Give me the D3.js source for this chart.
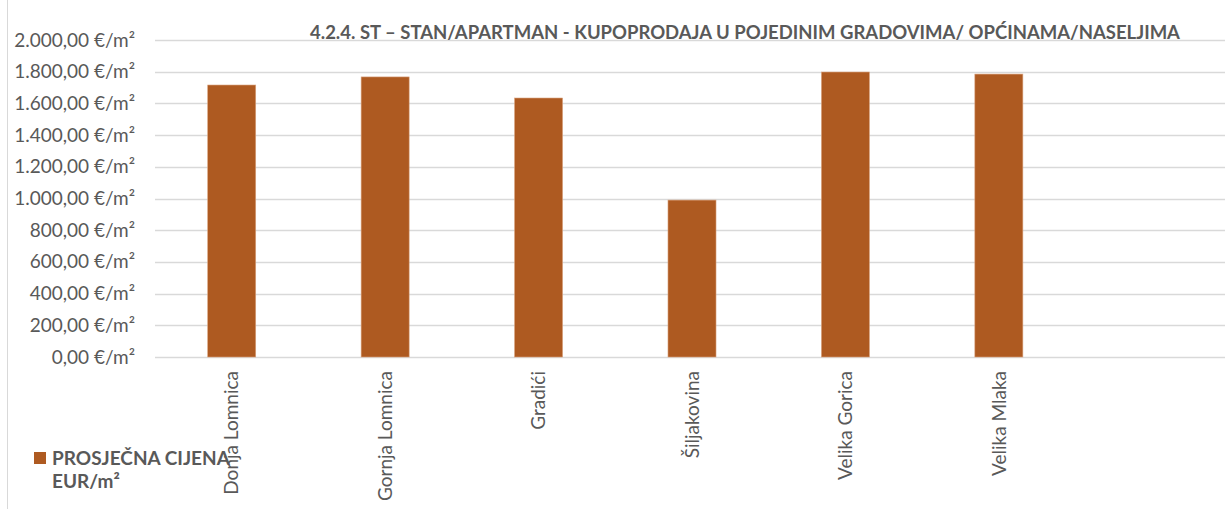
<!DOCTYPE html>
<html>
<head>
<meta charset="utf-8">
<script src="https://cdn.jsdelivr.net/npm/d3@7"></script>
<style>
  body { margin: 0; background: #fff; }
  text { font-family: Lato, "Open Sans", sans-serif; fill: #595959; }
</style>
</head>
<body>
<script>
const width = 1225;
const height = 509;
const margin = { top: 40, right: -4, bottom: 152, left: 155 };

const chartWidth = width - margin.left - margin.right;
const chartHeight = height - margin.top - margin.bottom;

// data
const categories = ["Donja Lomnica", "Gornja Lomnica", "Gradići", "Šiljakovina", "Velika Gorica", "Velika Mlaka", ""];
const values = [1716, 1767, 1634, 990, 1798, 1785];
const yTicks = [0, 200, 400, 600, 800, 1000, 1200, 1400, 1600, 1800, 2000];
const seriesName = ["PROSJEČNA CIJENA", "EUR/m²"];
const title = "4.2.4. ST – STAN/APARTMAN - KUPOPRODAJA U POJEDINIM GRADOVIMA/ OPĆINAMA/NASELJIMA";

const barColor = "#ae5a21";

const svg = d3.select("body")
  .append("svg")
  .attr("width", width)
  .attr("height", height);

// chart border
svg.append("line")
  .attr("x1", 7.5).attr("x2", 7.5)
  .attr("y1", 0).attr("y2", height)
  .attr("stroke", "#d9d9d9");

const g = svg.append("g")
  .attr("transform", `translate(${margin.left}, ${margin.top})`);

const x = d3.scaleBand()
  .domain(categories)
  .range([0, chartWidth])
  .paddingInner(0.687)
  .paddingOuter(0.3435);

const y = d3.scaleLinear()
  .domain([0, 2000])
  .range([chartHeight, 0]);

const fmt = d3.formatLocale({ decimal: ",", thousands: ".", grouping: [3], currency: ["", ""] }).format(",.2f");

// gridlines
g.append("g")
  .selectAll("line")
  .data(yTicks)
  .join("line")
    .attr("x1", 0)
    .attr("x2", chartWidth)
    .attr("y1", d => Math.round(y(d)) + 0.5)
    .attr("y2", d => Math.round(y(d)) + 0.5)
    .attr("stroke", "#d9d9d9")
    .attr("stroke-width", 1.3);

// y axis labels
const yAxis = d3.axisLeft(y)
  .tickValues(yTicks)
  .tickSize(0)
  .tickPadding(20)
  .tickFormat(d => `${fmt(d)} €/m²`);
g.append("g")
  .call(yAxis)
  .call(s => s.select(".domain").remove())
  .selectAll("text")
    .attr("font-size", 19)
    .attr("fill", "#595959")
    .style("font-family", "Lato, sans-serif");

// bars
g.selectAll("rect.bar")
  .data(values)
  .join("rect")
    .attr("class", "bar")
    .attr("x", (d, i) => x(categories[i]))
    .attr("y", d => y(d))
    .attr("width", x.bandwidth())
    .attr("height", d => chartHeight - y(d))
    .attr("fill", barColor)
    .attr("stroke", "#d9a27e")
    .attr("stroke-width", 0.6);

// x axis labels
const xAxis = d3.axisBottom(x).tickSize(0).tickPadding(0);
g.append("g")
  .attr("transform", `translate(0, ${chartHeight})`)
  .call(xAxis)
  .call(s => s.select(".domain").remove())
  .selectAll("text")
    .attr("transform", "rotate(-90)")
    .attr("x", -14)
    .attr("y", 0)
    .attr("dy", "0.35em")
    .attr("text-anchor", "end")
    .attr("font-size", 19)
    .attr("fill", "#595959")
    .style("font-family", "Lato, sans-serif");

// title
svg.append("text")
  .attr("x", 745)
  .attr("y", 39)
  .attr("text-anchor", "middle")
  .attr("font-size", 18.5)
  .attr("font-weight", "bold")
  .text(title);

// legend
svg.append("rect")
  .attr("x", 34)
  .attr("y", 452)
  .attr("width", 12)
  .attr("height", 12)
  .attr("fill", barColor);

svg.append("text")
  .attr("x", 52)
  .attr("y", 465)
  .attr("font-size", 19)
  .attr("font-weight", "bold")
  .selectAll("tspan")
  .data(seriesName)
  .join("tspan")
    .attr("x", 52)
    .attr("dy", (d, i) => i === 0 ? 0 : 23)
    .text(d => d);
</script>
</body>
</html>
